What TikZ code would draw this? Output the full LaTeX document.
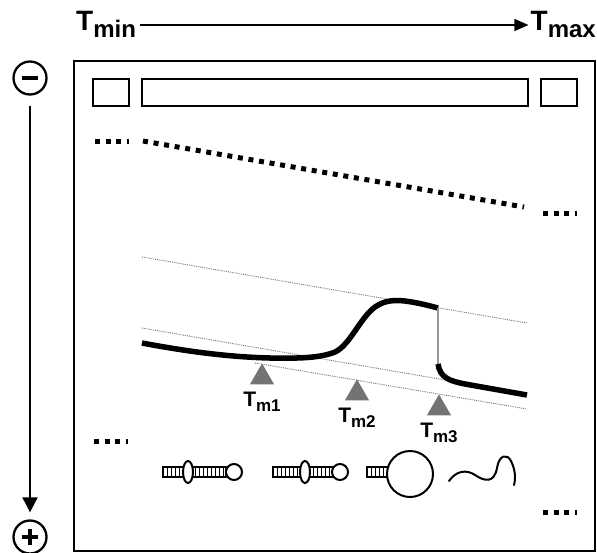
\documentclass[tikz,border=0pt]{standalone}
\usepackage{fontspec}
\setmainfont{Liberation Sans}
\usetikzlibrary{arrows.meta,shapes.geometric}
% T with a lowered subscript: base size, subscript size, drop, subscript text
\newcommand\Tsub[4]{{\fontsize{#1}{#1}\selectfont T}\raisebox{-#3pt}{\fontsize{#2}{#2}\selectfont #4}}
\begin{document}
\begin{tikzpicture}[x=1pt,y=-1pt,font=\bfseries,
  frame/.style={draw,line width=2pt},
  slot/.style={draw,line width=2.2pt},
  sq/.style={line width=5pt,dash pattern=on 5pt off 5.7pt},
  guide/.style={black!55,line width=0.9pt,densely dotted},
  melt/.style={line width=5.5pt},
  icon/.style={line width=2pt},
  rungs/.style={line width=8pt,dash pattern=on 1.2pt off 2.8pt},
  tri/.style={fill=black!55,regular polygon,regular polygon sides=3,minimum size=28pt,inner sep=0pt},
  sign/.style={circle,draw,line width=2.3pt,minimum size=33pt,inner sep=0pt},
  lbl/.style={inner sep=0pt}]
\useasboundingbox (0,0) rectangle (597,552);

% temperature axis
\node[lbl,anchor=base west] (tmin) at (76,30) {\Tsub{28}{24}{7}{min}};
\node[lbl,anchor=base east] (tmax) at (596,30) {\Tsub{28}{24}{7}{max}};
\coordinate (ax) at (0,25);
\draw[line width=1.5pt,-{Triangle[length=14pt,width=12pt]},shorten <=4pt,shorten >=2pt]
  (tmin.east |- ax) -- (tmax.west |- ax);

% electrophoresis direction
\node[sign,path picture={\draw[line width=4pt]
  ([xshift=-8pt]path picture bounding box.center) -- ([xshift=8pt]path picture bounding box.center);}]
  (minus) at (30,78) {};
\node[sign,path picture={\draw[line width=4pt]
  ([xshift=-8pt]path picture bounding box.center) -- ([xshift=8pt]path picture bounding box.center)
  ([yshift=-8pt]path picture bounding box.center) -- ([yshift=8pt]path picture bounding box.center);}]
  (plus) at (30,537) {};
\draw[line width=2pt,-{Triangle[length=15pt,width=15pt]},shorten <=10pt,shorten >=7pt] (minus) -- (plus);

% gel frame and wells
\draw[frame] (74,61) rectangle (595,551);
\draw[slot] (93,79) rectangle (129,106);
\draw[slot] (142,79) rectangle (528,106);
\draw[slot] (541,79) rectangle (577,106);

% bands
\draw[sq] (95,141) -- (128.5,141);
\draw[sq] (143,141) -- (524,207);
\draw[sq] (543,213) -- (576.5,213);
\draw[sq] (94,441) -- (127.5,441);
\draw[sq] (543,512) -- (576.5,512);

% reference lines
\draw[guide] (142,257) -- (527,323);
\draw[guide] (142,328) -- (527,394);
\draw[guide] (255,363) -- (527,409);

% melting curve
\draw[melt] (142,343) .. controls (190,352) and (230,357) .. (270,358)
  .. controls (300,358.5) and (320,358) .. (335,352)
  .. controls (350,345) and (360,318) .. (375,307)
  .. controls (385,300) and (395,300) .. (405,301)
  .. controls (420,303) and (430,306) .. (438,308);
\draw[black!40,line width=2pt] (438,308) -- (438,364);
\draw[melt] (438,364) .. controls (440,378) and (450,381) .. (465,384) -- (527,395);

% melting points
\node[tri,anchor=corner 1] (k1) at (262,363) {};
\node[tri,anchor=corner 1] (k2) at (357,379) {};
\node[tri,anchor=corner 1] (k3) at (439,394) {};
\node[lbl,anchor=north] (m1) at ([yshift=-7.5pt]k1.south) {\Tsub{21}{17}{5}{m1}};
\node[lbl,anchor=north] (m2) at ([yshift=-7.5pt]k2.south) {\Tsub{21}{17}{5}{m2}};
\node[lbl,anchor=north] (m3) at ([yshift=-7.5pt]k3.south) {\Tsub{21}{17}{5}{m3}};

% hairpin, two internal loops
\draw[rungs] (163,472) -- (226,472);
\draw[icon] (163,467) rectangle (226,477);
\draw[icon,fill=white] (188,472) ellipse (5 and 11);
\draw[icon,fill=white] (234,472) circle (8);
% hairpin, one internal loop
\draw[rungs] (273,472) -- (333,472);
\draw[icon] (273,467) rectangle (333,477);
\draw[icon,fill=white] (305,472) ellipse (5 and 11);
\draw[icon,fill=white] (340,472) circle (8);
% short stem, large loop
\draw[rungs] (367,472) -- (388,472);
\draw[icon] (367,467) rectangle (388,477);
\draw[icon,fill=white] (410,474) circle (23);
% random coil
\draw[icon,line cap=round] (449,481) .. controls (456,471) and (466,469) .. (475,475)
  .. controls (484,481) and (494,484) .. (497,468)
  .. controls (499,455) and (507,453) .. (511,461)
  .. controls (515,469) and (516,478) .. (514,485);
\end{tikzpicture}
\end{document}
